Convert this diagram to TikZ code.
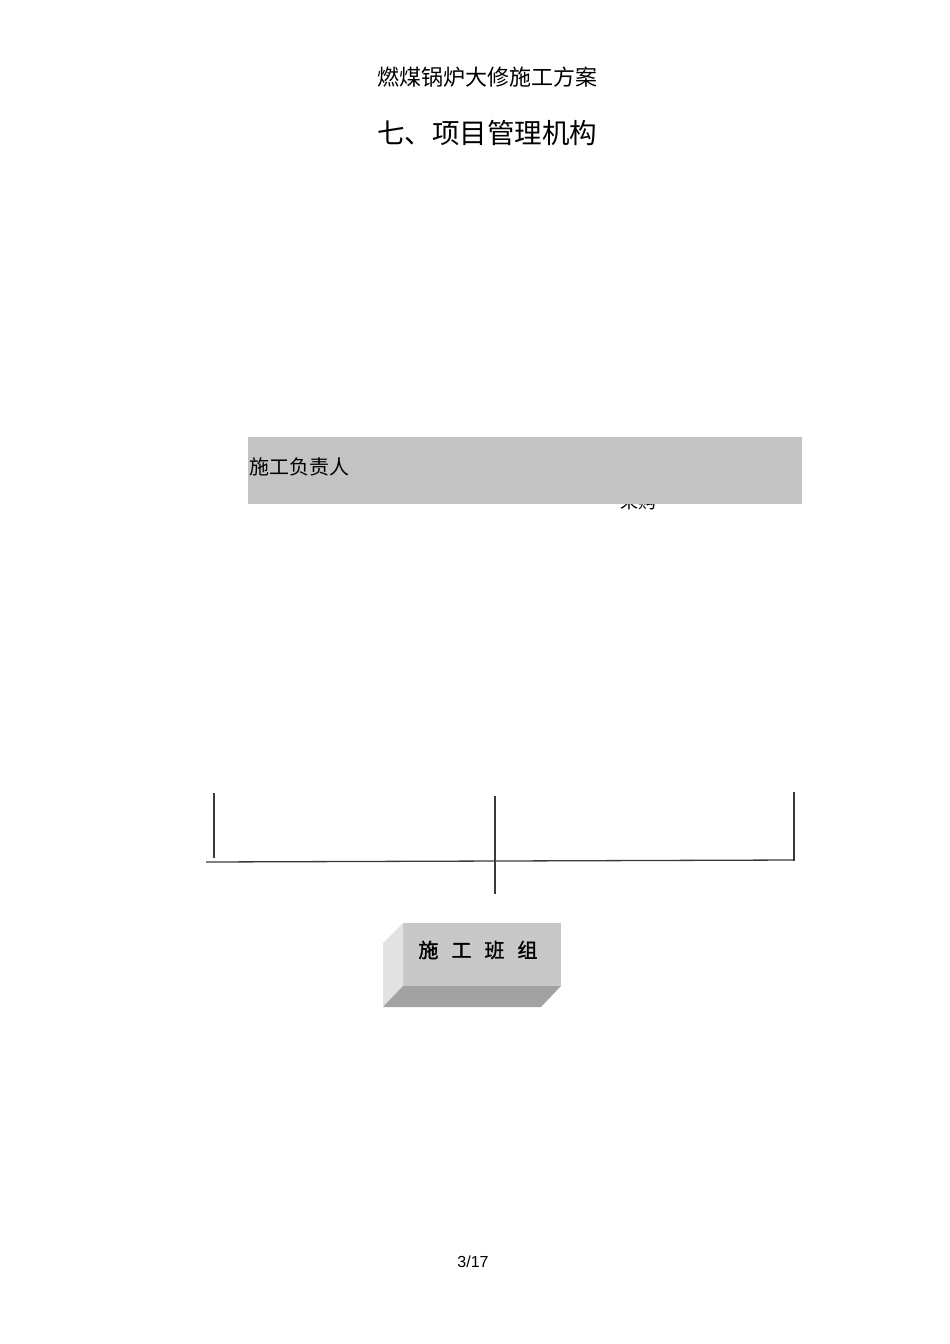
\documentclass[tikz,border=0pt]{standalone}
\usepackage{fontspec}
\setmainfont{Liberation Sans}
\newfontfamily\cjk{Noto Sans CJK SC}
\newfontfamily\cjkbold[FakeBold=1.5]{Noto Sans CJK SC}
\usetikzlibrary{positioning}
\definecolor{boxgray}{HTML}{C3C3C3}
\definecolor{frontgray}{HTML}{C8C8C8}
\definecolor{sidegray}{HTML}{E2E2E2}
\definecolor{bottomgray}{HTML}{A2A2A2}
\definecolor{linegray}{HTML}{3A3A3A}

\begin{document}
\begin{tikzpicture}[x=1pt,y=-1pt]
	\tikzset{orgline/.style={draw=linegray,line width=1.3pt},
		label/.style={inner sep=0pt,anchor=center}}
	\useasboundingbox (0,0) rectangle (950,1344);

	%% Page head
	\node[label,font=\cjk\fontsize{22}{22}\selectfont] (head) at (487,77) {燃煤锅炉大修施工方案};
	\node[label,font=\cjk\fontsize{27.5}{27.5}\selectfont] (title) at (487,133) {七、项目管理机构};

	%% Top box (covers a hidden label)
	\node[label,font=\cjk\fontsize{18}{18}\selectfont] (hidden) at (638,502) {采购};
	\fill[boxgray] (248,437) rectangle (802,504);
	\node[label,anchor=west,font=\cjk\fontsize{20}{20}\selectfont] (chief) at (249,467) {施工负责人};

	%% Branch lines
	\coordinate (hl) at (206,862);
	\coordinate (hr) at (794,860);
	\coordinate (v1t) at (214,793);
	\coordinate (v1b) at (214,858);
	\coordinate (v2t) at (495,796);
	\coordinate (v2b) at (495,894);
	\coordinate (v3t) at (794,792);
	\coordinate (v3b) at (794,861);
	\path[orgline] (hl) -- (hr);
	\path[orgline] (v1t) -- (v1b);
	\path[orgline] (v2t) -- (v2b);
	\path[orgline] (v3t) -- (v3b);

	%% Team block
	\fill[frontgray] (403,923) rectangle (561,986);
	\fill[sidegray] (383,943) -- (403,923) -- (403,986) -- (383,1007) -- cycle;
	\fill[bottomgray] (403,986) -- (561,986) -- (541,1007) -- (383,1007) -- cycle;
	\node[label,font=\cjkbold\fontsize{20}{20}\selectfont] (team) at (478,950) {施\hspace{13pt}工\hspace{13pt}班\hspace{13pt}组};

	%% Page number
	\node[label,font=\fontsize{16}{16}\selectfont] (page) at (473,1262) {3/17};
\end{tikzpicture}
\end{document}
